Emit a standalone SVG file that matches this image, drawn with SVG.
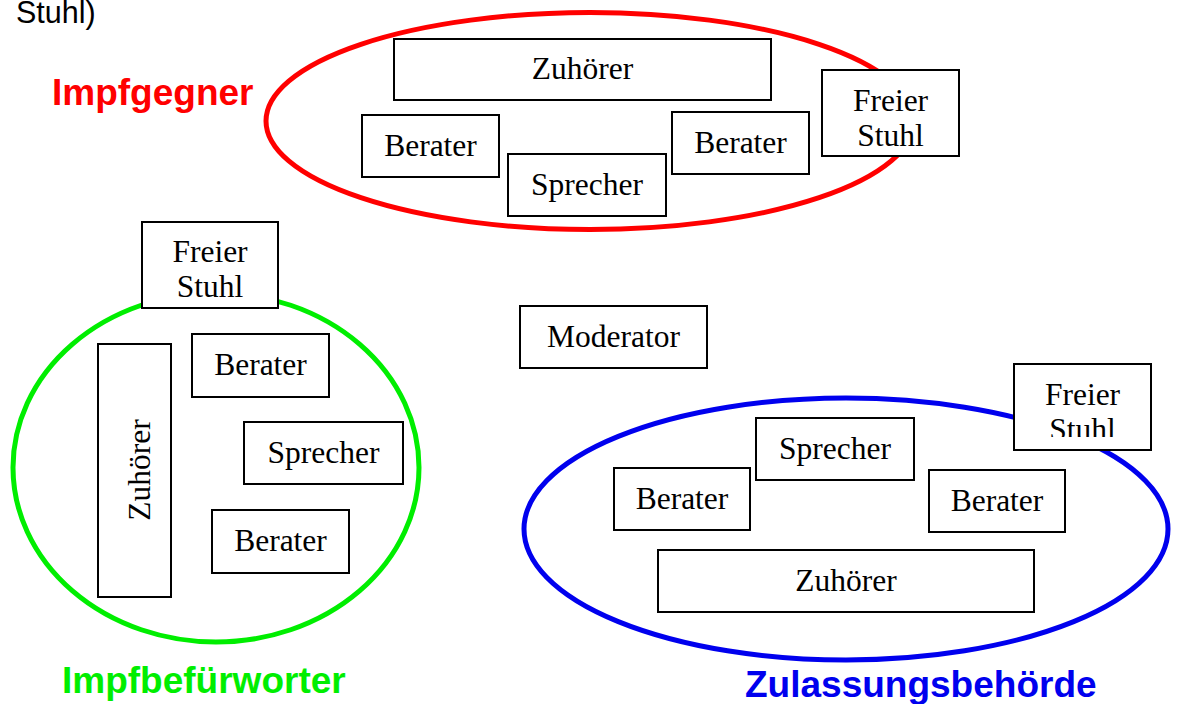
<svg xmlns="http://www.w3.org/2000/svg" width="1178" height="704" viewBox="0 0 1178 704">
  <style>
    .seat { fill: #ffffff; stroke: #000000; stroke-width: 2; }
    .name { font-family: "Liberation Serif", "Times New Roman", serif; font-size: 31.5px; fill: #000000; text-anchor: middle; }
    .party { font-family: "Liberation Sans", Arial, sans-serif; font-size: 37px; font-weight: bold; }
    .ring { fill: none; stroke-width: 5; }
    .note { font-family: "Liberation Sans", Arial, sans-serif; font-size: 30.5px; fill: #000000; }
  </style>
  <defs>
    <clipPath id="clip-chair-red"><rect x="823" y="71" width="135" height="75.5"/></clipPath>
    <clipPath id="clip-chair-green"><rect x="143" y="223" width="134" height="74"/></clipPath>
    <clipPath id="clip-chair-blue"><rect x="1015" y="365" width="135" height="72"/></clipPath>
  </defs>
  <rect width="1178" height="704" fill="#ffffff"/>

  <text class="note" x="16" y="23">Stuhl)</text>

  <!-- party areas -->
  <g id="impfgegner">
    <ellipse class="ring" cx="590" cy="121" rx="324" ry="108.5" stroke="#ff0000"/>
    <text class="party" x="52" y="105" fill="#ff0000">Impfgegner</text>
  </g>
  <g id="impfbefuerworter">
    <ellipse class="ring" cx="216" cy="467.5" rx="203" ry="174.5" stroke="#00ee00"/>
    <text class="party" x="62" y="693" fill="#00ee00">Impfbefürworter</text>
  </g>
  <g id="zulassungsbehoerde">
    <ellipse class="ring" cx="846" cy="529" rx="322" ry="131" stroke="#0000ee"/>
    <text class="party" x="745" y="697" fill="#0000ee">Zulassungsbehörde</text>
  </g>

  <!-- seats of the opponents -->
  <g id="red-zuhoerer"><rect class="seat" x="394" y="39" width="377" height="61"/><text class="name" x="582.5" y="79">Zuhörer</text></g>
  <g id="red-berater-1"><rect class="seat" x="362" y="115" width="137" height="62"/><text class="name" x="430.5" y="156">Berater</text></g>
  <g id="red-sprecher"><rect class="seat" x="508" y="154" width="158" height="62"/><text class="name" x="587" y="195">Sprecher</text></g>
  <g id="red-berater-2"><rect class="seat" x="672" y="112" width="137" height="62"/><text class="name" x="740.5" y="153">Berater</text></g>
  <g id="red-freier-stuhl"><rect class="seat" x="822" y="70" width="137" height="86"/>
    <g clip-path="url(#clip-chair-red)"><text class="name" x="890.5" y="111">Freier</text><text class="name" x="890.5" y="146">Stuhl</text></g></g>

  <!-- seats of the supporters -->
  <g id="green-freier-stuhl"><rect class="seat" x="142" y="222" width="136" height="86"/>
    <g clip-path="url(#clip-chair-green)"><text class="name" x="210" y="262">Freier</text><text class="name" x="210" y="297">Stuhl</text></g></g>
  <g id="green-zuhoerer"><rect class="seat" x="98" y="344" width="73" height="253"/><text class="name" transform="translate(150,470) rotate(-90)">Zuhörer</text></g>
  <g id="green-berater-1"><rect class="seat" x="192" y="334" width="137" height="63"/><text class="name" x="260.5" y="375">Berater</text></g>
  <g id="green-sprecher"><rect class="seat" x="244" y="422" width="159" height="62"/><text class="name" x="323.5" y="463">Sprecher</text></g>
  <g id="green-berater-2"><rect class="seat" x="212" y="510" width="137" height="63"/><text class="name" x="280.5" y="551">Berater</text></g>

  <!-- chair of the debate -->
  <g id="moderator"><rect class="seat" x="520" y="306" width="187" height="62"/><text class="name" x="613.5" y="347">Moderator</text></g>

  <!-- seats of the authority -->
  <g id="blue-freier-stuhl"><rect class="seat" x="1014" y="364" width="137" height="86"/>
    <g clip-path="url(#clip-chair-blue)"><text class="name" x="1082.5" y="405">Freier</text><text class="name" x="1082.5" y="440">Stuhl</text></g></g>
  <g id="blue-sprecher"><rect class="seat" x="756" y="418" width="158" height="62"/><text class="name" x="835" y="459">Sprecher</text></g>
  <g id="blue-berater-1"><rect class="seat" x="614" y="468" width="136" height="62"/><text class="name" x="682" y="509">Berater</text></g>
  <g id="blue-berater-2"><rect class="seat" x="929" y="470" width="136" height="62"/><text class="name" x="997" y="511">Berater</text></g>
  <g id="blue-zuhoerer"><rect class="seat" x="658" y="550" width="376" height="62"/><text class="name" x="846" y="591">Zuhörer</text></g>
</svg>
